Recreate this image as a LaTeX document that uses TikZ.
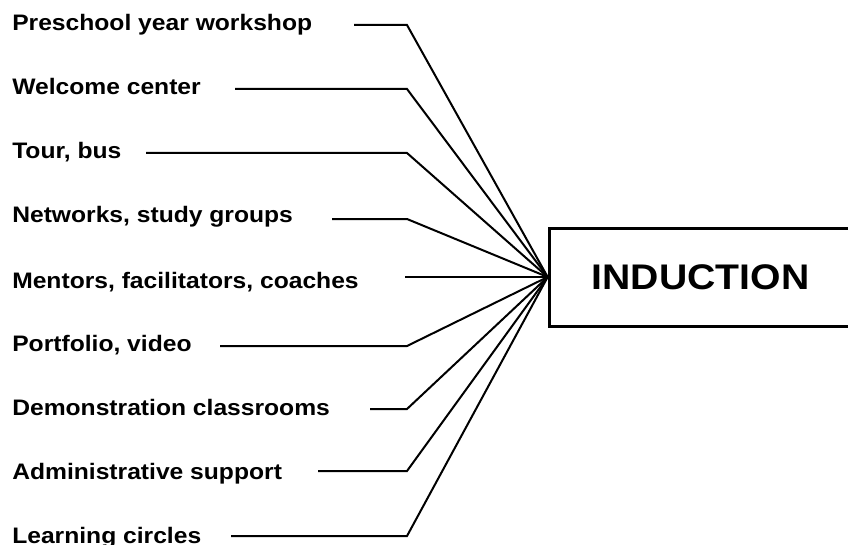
\documentclass[tikz,border=0pt]{standalone}
\usepackage{fontspec}
\setmainfont{Liberation Sans}[FakeStretch=1.1]
\usetikzlibrary{positioning}
\tikzset{
  item/.style={anchor=base west, inner sep=0pt, font=\bfseries\fontsize{16.8}{19}\selectfont},
  link/.style={line width=1.5pt, line join=miter},
  hub/.style={draw, line width=2.25pt, minimum width=227pt, minimum height=73.5pt, inner sep=0pt, font=\bfseries\fontsize{26.7}{30}\selectfont},
}

\begin{document}
\begin{tikzpicture}[x=0.75pt, y=-0.75pt]
  \useasboundingbox (0,0) rectangle (848,545);
  % the box every spoke runs into
  \node[hub] (ind) at (700.5,277) {INDUCTION};

  % labels down the left side
  \node[item] (pre)  at (12,31)  {Preschool year workshop};
  \node[item] (wel)  at (12,95)  {Welcome center};
  \node[item] (tour) at (12,159) {Tour, bus};
  \node[item] (net)  at (12,223) {Networks, study groups};
  \node[item] (men)  at (12,288) {Mentors, facilitators, coaches};
  \node[item] (port) at (12,351) {Portfolio, video};
  \node[item] (demo) at (12,415) {Demonstration classrooms};
  \node[item] (adm)  at (12,479) {Administrative support};
  \node[item] (lea)  at (12,543) {Learning circles};

  % where each spoke starts and where it bends
  \coordinate (pre-s)  at (354,25);  \coordinate (pre-k)  at (407,25);
  \coordinate (wel-s)  at (235,89);  \coordinate (wel-k)  at (407,89);
  \coordinate (tour-s) at (146,153); \coordinate (tour-k) at (407,153);
  \coordinate (net-s)  at (332,219); \coordinate (net-k)  at (407,219);
  \coordinate (men-s)  at (405,277);
  \coordinate (port-s) at (220,346); \coordinate (port-k) at (407,346);
  \coordinate (demo-s) at (370,409); \coordinate (demo-k) at (407,409);
  \coordinate (adm-s)  at (318,471); \coordinate (adm-k)  at (407,471);
  \coordinate (lea-s)  at (231,536); \coordinate (lea-k)  at (407,536);

  \draw[link] (pre-s) -- (pre-k) -- (ind.west);
  \draw[link] (wel-s) -- (wel-k) -- (ind.west);
  \draw[link] (tour-s) -- (tour-k) -- (ind.west);
  \draw[link] (net-s) -- (net-k) -- (ind.west);
  \draw[link] (men-s) -- (ind.west);
  \draw[link] (port-s) -- (port-k) -- (ind.west);
  \draw[link] (demo-s) -- (demo-k) -- (ind.west);
  \draw[link] (adm-s) -- (adm-k) -- (ind.west);
  \draw[link] (lea-s) -- (lea-k) -- (ind.west);
\end{tikzpicture}
\end{document}
